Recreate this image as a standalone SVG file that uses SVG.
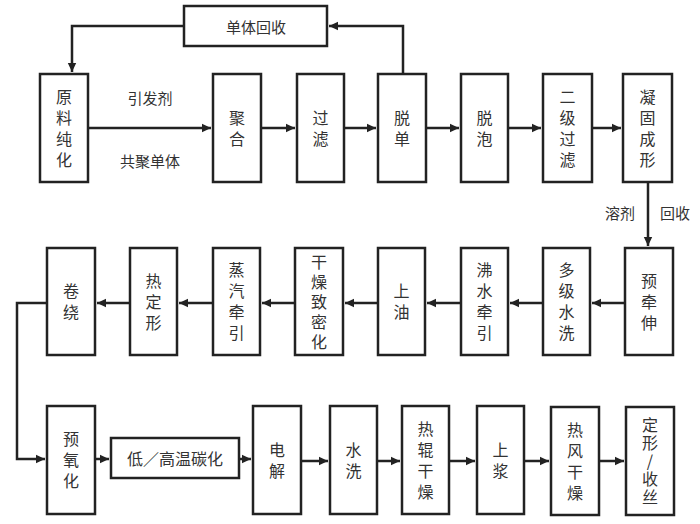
<svg xmlns="http://www.w3.org/2000/svg" width="700" height="524" viewBox="0 0 700 524">
<style>
.b{fill:#fff;stroke:#222;stroke-width:2.5}
.t{font-family:"Noto Sans CJK SC","Noto Sans",sans-serif;font-size:16px;fill:#333;text-anchor:middle;dominant-baseline:central}
.v{font-family:"Noto Sans CJK SC","Noto Sans",sans-serif;font-size:16px;fill:#333;text-anchor:middle;writing-mode:vertical-rl;text-orientation:upright;letter-spacing:5px}
.l{font-family:"Noto Sans CJK SC","Noto Sans",sans-serif;font-size:15px;fill:#333;text-anchor:middle;dominant-baseline:central}
.c{fill:none;stroke:#222;stroke-width:2.5}
</style>
<defs>
<marker id="a" markerUnits="userSpaceOnUse" markerWidth="10" markerHeight="10" refX="9" refY="5" orient="auto">
<path d="M0,0.8 L9,5 L0,9.2 Z" fill="#222"/>
</marker>
</defs>
<rect width="700" height="524" fill="#fff"/>
<g id="connectors">
<path class="c" d="M403,74 V26 H329" marker-end="url(#a)"/>
<path class="c" d="M184,26 H72 V72" marker-end="url(#a)"/>
<path class="c" d="M88,128 H211" marker-end="url(#a)"/>
<path class="c" d="M261,128 H295" marker-end="url(#a)"/>
<path class="c" d="M344,128 H376" marker-end="url(#a)"/>
<path class="c" d="M426,128 H459" marker-end="url(#a)"/>
<path class="c" d="M508,128 H541" marker-end="url(#a)"/>
<path class="c" d="M592,128 H621" marker-end="url(#a)"/>
<path class="c" d="M648,182 V246" marker-end="url(#a)"/>
<path class="c" d="M625,303 H592" marker-end="url(#a)"/>
<path class="c" d="M543,303 H510" marker-end="url(#a)"/>
<path class="c" d="M461,303 H427" marker-end="url(#a)"/>
<path class="c" d="M378,303 H345" marker-end="url(#a)"/>
<path class="c" d="M295,303 H262" marker-end="url(#a)"/>
<path class="c" d="M213,303 H179" marker-end="url(#a)"/>
<path class="c" d="M130,303 H97" marker-end="url(#a)"/>
<path class="c" d="M47,303 H17 V459 H45" marker-end="url(#a)"/>
<path class="c" d="M95,459 H109" marker-end="url(#a)"/>
<path class="c" d="M239,459 H251" marker-end="url(#a)"/>
<path class="c" d="M301,461 H328" marker-end="url(#a)"/>
<path class="c" d="M377,461 H400" marker-end="url(#a)"/>
<path class="c" d="M449,461 H475" marker-end="url(#a)"/>
<path class="c" d="M524,461 H549" marker-end="url(#a)"/>
<path class="c" d="M599,461 H624" marker-end="url(#a)"/>
</g>
<g id="labels">
<text class="l" x="150" y="97">引发剂</text>
<text class="l" x="150" y="160">共聚单体</text>
<text class="l" x="620" y="212">溶剂</text>
<text class="l" x="675" y="212">回收</text>
</g>
<g id="n_huishou"><rect class="b" x="184" y="6" width="143" height="40"/><text class="l" x="256" y="26">单体回收</text></g>
<g id="n1"><rect class="b" x="40" y="74" width="48" height="108"/><text class="v" x="64" y="130.5">原料纯化</text></g>
<g id="n2"><rect class="b" x="213" y="74" width="48" height="108"/><text class="v" x="237" y="130.5">聚合</text></g>
<g id="n3"><rect class="b" x="297" y="74" width="47" height="108"/><text class="v" x="320.5" y="130.5">过滤</text></g>
<g id="n4"><rect class="b" x="378" y="74" width="48" height="108"/><text class="v" x="402" y="130.5">脱单</text></g>
<g id="n5"><rect class="b" x="461" y="74" width="47" height="108"/><text class="v" x="484.5" y="130.5">脱泡</text></g>
<g id="n6"><rect class="b" x="543" y="74" width="49" height="108"/><text class="v" x="567.5" y="130.5">二级过滤</text></g>
<g id="n7"><rect class="b" x="623" y="74" width="49" height="108"/><text class="v" x="647.5" y="130.5">凝固成形</text></g>
<g id="n8"><rect class="b" x="625" y="248" width="48" height="107"/><text class="v" x="649" y="304">预牵伸</text></g>
<g id="n9"><rect class="b" x="543" y="248" width="47" height="107"/><text class="v" x="566.5" y="304">多级水洗</text></g>
<g id="n10"><rect class="b" x="461" y="248" width="47" height="107"/><text class="v" x="484.5" y="304">沸水牵引</text></g>
<g id="n11"><rect class="b" x="378" y="248" width="47" height="107"/><text class="v" x="401.5" y="304">上油</text></g>
<g id="n12"><rect class="b" x="295" y="248" width="48" height="107"/><text class="v" x="319" y="303.5" style="letter-spacing:4px">干燥致密化</text></g>
<g id="n13"><rect class="b" x="213" y="248" width="47" height="107"/><text class="v" x="236.5" y="304">蒸汽牵引</text></g>
<g id="n14"><rect class="b" x="130" y="248" width="47" height="107"/><text class="v" x="153.5" y="304">热定形</text></g>
<g id="n15"><rect class="b" x="47" y="248" width="48" height="107"/><text class="v" x="71" y="304">卷绕</text></g>
<g id="n16"><rect class="b" x="47" y="406" width="48" height="108"/><text class="v" x="71" y="462.5">预氧化</text></g>
<g id="n17"><rect class="b" x="111" y="438" width="128" height="40"/><text class="t" x="175" y="458">低／高温碳化</text></g>
<g id="n18"><rect class="b" x="253" y="406" width="48" height="108"/><text class="v" x="277" y="462.5">电解</text></g>
<g id="n19"><rect class="b" x="330" y="406" width="47" height="108"/><text class="v" x="353.5" y="462.5">水洗</text></g>
<g id="n20"><rect class="b" x="402" y="406" width="47" height="108"/><text class="v" x="425.5" y="462.5">热辊干燥</text></g>
<g id="n21"><rect class="b" x="477" y="406" width="47" height="108"/><text class="v" x="500.5" y="462.5">上浆</text></g>
<g id="n22"><rect class="b" x="551" y="407" width="48" height="108"/><text class="v" x="575" y="463.5">热风干燥</text></g>
<g id="n23"><rect class="b" x="626" y="407" width="48" height="108"/><text class="v" x="650" y="462" style="letter-spacing:2px">定形/收丝</text></g>
</svg>
